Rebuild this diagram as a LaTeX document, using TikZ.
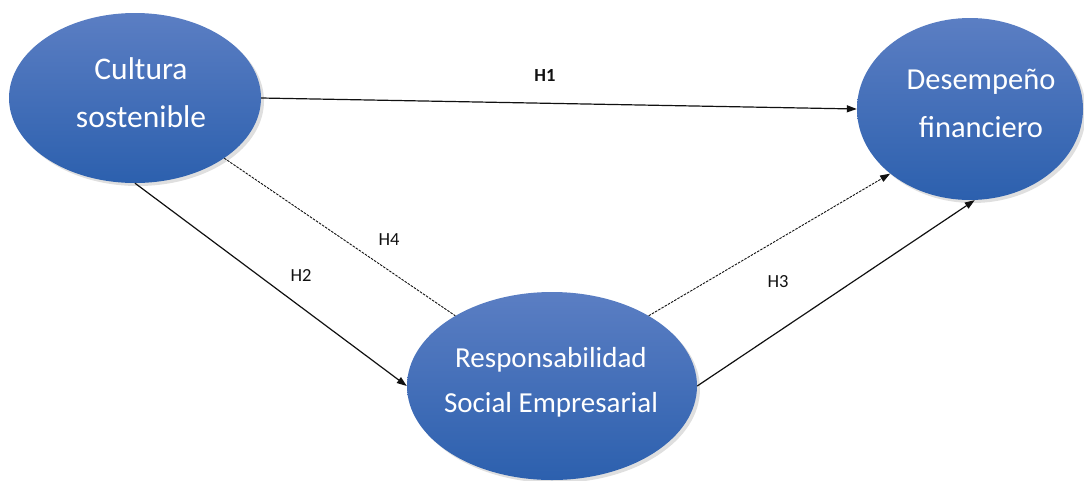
\documentclass[tikz,border=0pt]{standalone}
\usepackage{fontspec}
\setmainfont{Carlito}
\usetikzlibrary{arrows.meta,shapes.geometric,shadows}
\definecolor{tp}{HTML}{5B7EC3}
\definecolor{bt}{HTML}{2C60AE}
\definecolor{ln}{HTML}{111111}

\begin{document}
\begin{tikzpicture}[x=1pt,y=-1pt,
  e/.style={ellipse,inner sep=0pt,top color=tp,bottom color=bt,draw=none,drop shadow={opacity=0.25,shadow xshift=3pt,shadow yshift=-3pt}},
  lb/.style={text=white,align=center,inner sep=0pt},
  h/.style={font=\fontsize{18.5}{22}\selectfont,text=ln},
  a/.style={-{Triangle[length=10pt,width=7pt]},draw=ln,line width=1.2pt},
  d/.style={draw=ln,line width=0.9pt,dash pattern=on 2.5pt off 1.2pt}]
\useasboundingbox (0,0) rectangle (1084,480);
\node[e,minimum width=252pt,minimum height=170pt,
  label={[lb,font=\fontsize{31.5}{48}\selectfont,xshift=6pt,yshift=5pt]center:{Cultura\\sostenible}}](cs) at (135,98){};
\node[e,minimum width=226pt,minimum height=182pt,
  label={[lb,font=\fontsize{30.5}{48}\selectfont,xshift=11pt,yshift=6pt]center:{Desempeño\\financiero}}](df) at (970,109){};
\node[e,minimum width=290pt,minimum height=188pt,
  label={[lb,font=\fontsize{29}{45}\selectfont,xshift=-1pt,yshift=4pt]center:{Responsabilidad\\Social Empresarial}}](rse) at (552,386){};
\foreach \i/\j in {cs.east/df.west,cs.south/rse.west,rse.east/df.273}
  \draw[a](\i)--(\j);
\draw[d](cs.326)--(rse.144);
\draw[a,d](rse.36)--(df.219);
\node[h](h1) at (545,75){\textbf{H1}};
\node[h](h2) at (301,275){H2};
\node[h](h3) at (778,282){H3};
\node[h](h4) at (389,240){H4};
\end{tikzpicture}
\end{document}
